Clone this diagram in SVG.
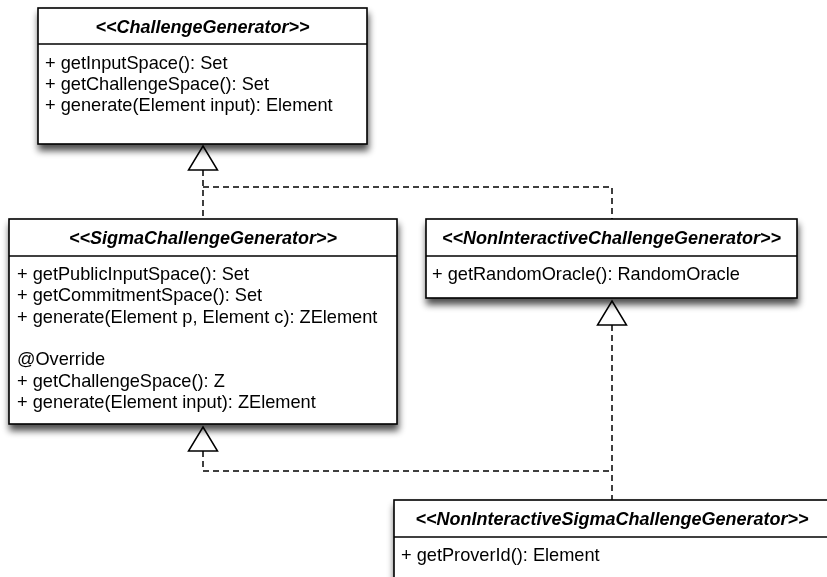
<svg xmlns="http://www.w3.org/2000/svg" width="827" height="577" viewBox="0 0 827 577">
<defs>
<filter id="sh" x="-10%" y="-10%" width="120%" height="130%">
<feGaussianBlur in="SourceAlpha" stdDeviation="3.5"/>
<feOffset dx="1" dy="6" result="b"/>
<feComponentTransfer><feFuncA type="linear" slope="0.7"/></feComponentTransfer>
<feMerge><feMergeNode/><feMergeNode in="SourceGraphic"/></feMerge>
</filter>
<style>
.box{fill:#fff;stroke:#000;stroke-width:1.6}
.div{stroke:#000;stroke-width:1.4;fill:none}
.t{font-family:"Liberation Sans",Arial,sans-serif;font-size:18px;font-weight:bold;font-style:italic;text-anchor:middle;fill:#000}
.m{font-family:"Liberation Sans",Arial,sans-serif;font-size:18.2px;fill:#000}
.d{stroke:#000;stroke-width:1.5;fill:none;stroke-dasharray:6,4}
.tri{fill:#fff;stroke:#000;stroke-width:1.5}
</style>
</defs>
<rect width="827" height="577" fill="#fff"/>
<g id="connectors">
<path class="d" d="M203,170 V219"/>
<path class="d" d="M203,187 H612 V219"/>
<path class="d" d="M612,325 V500"/>
<path class="d" d="M203,451 V471 H612"/>
<polygon class="tri" points="203,146 217.5,170 188.5,170"/>
<polygon class="tri" points="612,301 626.5,325 597.5,325"/>
<polygon class="tri" points="203,427 217.5,451 188.5,451"/>
</g>
<g id="ChallengeGenerator" filter="url(#sh)">
<rect class="box" x="38" y="8" width="329" height="136"/>
<line class="div" x1="38" y1="44" x2="367" y2="44"/>
<text class="t" x="202.5" y="33">&lt;&lt;ChallengeGenerator&gt;&gt;</text>
<text class="m" x="45" y="68.5">+ getInputSpace(): Set</text>
<text class="m" x="45" y="90">+ getChallengeSpace(): Set</text>
<text class="m" x="45" y="111">+ generate(Element input): Element</text>
</g>
<g id="SigmaChallengeGenerator" filter="url(#sh)">
<rect class="box" x="9" y="219" width="388" height="205"/>
<line class="div" x1="9" y1="256" x2="397" y2="256"/>
<text class="t" x="203" y="244">&lt;&lt;SigmaChallengeGenerator&gt;&gt;</text>
<text class="m" x="17" y="280">+ getPublicInputSpace(): Set</text>
<text class="m" x="17" y="301.3">+ getCommitmentSpace(): Set</text>
<text class="m" x="17" y="322.6">+ generate(Element p, Element c): ZElement</text>
<text class="m" x="17" y="365">@Override</text>
<text class="m" x="17" y="386.5">+ getChallengeSpace(): Z</text>
<text class="m" x="17" y="408">+ generate(Element input): ZElement</text>
</g>
<g id="NonInteractiveChallengeGenerator" filter="url(#sh)">
<rect class="box" x="426" y="219" width="371" height="79"/>
<line class="div" x1="426" y1="256" x2="797" y2="256"/>
<text class="t" x="611.5" y="244">&lt;&lt;NonInteractiveChallengeGenerator&gt;&gt;</text>
<text class="m" x="432" y="280">+ getRandomOracle(): RandomOracle</text>
</g>
<g id="NonInteractiveSigmaChallengeGenerator" filter="url(#sh)">
<rect class="box" x="394" y="500" width="440" height="90"/>
<line class="div" x1="394" y1="537" x2="834" y2="537"/>
<text class="t" x="612" y="525">&lt;&lt;NonInteractiveSigmaChallengeGenerator&gt;&gt;</text>
<text class="m" x="401" y="561">+ getProverId(): Element</text>
</g>
</svg>
